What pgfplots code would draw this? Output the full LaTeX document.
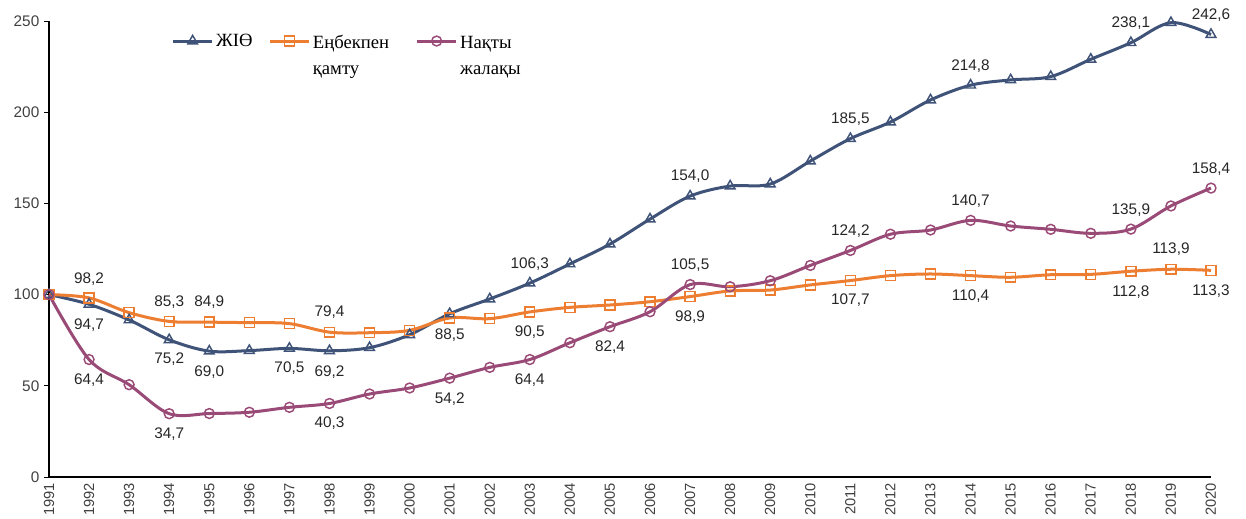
\documentclass[border=0pt]{standalone}
\usepackage{fontspec}
\setmainfont{Liberation Serif}
\newfontfamily\arial{Liberation Sans}
\usepackage{pgfplots}
\pgfplotsset{compat=1.18}
\usetikzlibrary{calc}
\definecolor{cGdp}{HTML}{3F5378}
\definecolor{cEmp}{HTML}{ED7D31}
\definecolor{cWage}{HTML}{9A4A76}
\definecolor{cTxt}{HTML}{262626}
\definecolor{cTick}{HTML}{404040}
\tikzset{lbl/.style={font=\arial\fontsize{11.5}{13}\selectfont, text=cTxt}}

\begin{document}
\begin{tikzpicture}
\begin{axis}[
  name=ax,
  scale only axis,
  width=871.5pt, height=342pt,
  xmin=1991, xmax=2020, ymin=0, ymax=250,
  xtick={1991,...,2020},
  ytick={0,50,...,250},
  axis lines*=left,
  axis line style={black, line width=0.8pt},
  /pgf/number format/1000 sep={},
  /pgf/number format/assume math mode=true,
  tick label style={font=\arial\fontsize{11.5}{13}\selectfont, text=cTick},
  x tick label style={rotate=90, anchor=east, inner sep=0.8pt, font=\arial\fontsize{11}{13}\selectfont},
  x tick style={draw=none},
  y tick style={black, line width=0.6pt},
  major tick length=3.75pt,
  tick align=outside,
  clip=false,
  every axis plot/.append style={line width=2.25pt, smooth, tension=0.55},
  legend style={draw=none, fill=none, at={(0.102,0.99)}, anchor=north west,
    font=\fontsize{14}{19}\selectfont, legend columns=3,
    /tikz/every even column/.append style={column sep=10pt}},
  legend image code/.code={
    \draw[mark repeat=2, mark phase=2, #1] plot coordinates {(0pt,0pt) (14.5pt,0pt) (29pt,0pt)};
  },
]
% ЖIӨ
\addplot[cGdp, mark=triangle, mark size=4.2pt, mark options={fill=white, line width=1.1pt}] coordinates {
 (1991,100) (1992,94.7) (1993,86.1) (1994,75.2) (1995,69.0) (1996,69.3) (1997,70.5) (1998,69.2) (1999,70.9) (2000,78.0)
 (2001,89.5) (2002,97.6) (2003,106.3) (2004,116.8) (2005,127.7) (2006,141.4) (2007,154.0) (2008,159.5) (2009,160.6) (2010,173.2)
 (2011,185.5) (2012,194.6) (2013,206.7) (2014,214.8) (2015,217.7) (2016,219.5) (2017,229.0) (2018,238.1) (2019,249.1) (2020,242.6)
};
\addlegendentry{ЖІӨ}
% Employment
\addplot[cEmp, mark=square, mark size=3.7pt, mark options={fill=white, line width=1.1pt}] coordinates {
 (1991,100) (1992,98.2) (1993,90.1) (1994,85.3) (1995,84.9) (1996,84.6) (1997,84.1) (1998,79.4) (1999,79.1) (2000,80.4)
 (2001,87.2) (2002,86.8) (2003,90.5) (2004,93.0) (2005,94.3) (2006,96.1) (2007,98.9) (2008,102.0) (2009,102.5) (2010,105.3)
 (2011,107.7) (2012,110.4) (2013,111.3) (2014,110.4) (2015,109.5) (2016,110.9) (2017,111.1) (2018,112.8) (2019,113.9) (2020,113.3)
};
\addlegendentry{\begin{tabular}[t]{@{}l@{\hspace{8pt}}}Еңбекпен\\қамту\end{tabular}}
% Real wages
\addplot[cWage, mark=o, mark size=3.7pt, mark options={fill=white, line width=1.1pt}] coordinates {
 (1991,100) (1992,64.4) (1993,50.6) (1994,34.7) (1995,34.8) (1996,35.5) (1997,38.2) (1998,40.3) (1999,45.5) (2000,48.8)
 (2001,54.2) (2002,60.1) (2003,64.4) (2004,73.6) (2005,82.4) (2006,90.6) (2007,105.5) (2008,104.3) (2009,107.6) (2010,116.0)
 (2011,124.2) (2012,133.1) (2013,135.4) (2014,140.7) (2015,137.6) (2016,135.8) (2017,133.6) (2018,135.9) (2019,148.6) (2020,158.4)
};
\addlegendentry{\begin{tabular}[t]{@{}l@{}}Нақты\\жалақы\end{tabular}}

% data labels
\node[lbl] at (axis cs:1992,83.3) {94,7};
\node[lbl] at (axis cs:1994,64.5) {75,2};
\node[lbl] at (axis cs:1995,57.7) {69,0};
\node[lbl] at (axis cs:1997,59.6) {70,5};
\node[lbl] at (axis cs:1998,57.7) {69,2};
\node[lbl] at (axis cs:2001,77.9) {88,5};
\node[lbl] at (axis cs:2003,116.6) {106,3};
\node[lbl] at (axis cs:2007,165.0) {154,0};
\node[lbl] at (axis cs:2011,196.3) {185,5};
\node[lbl] at (axis cs:2014,225.3) {214,8};
\node[lbl] at (axis cs:2018,248.9) {238,1};
\node[lbl] at (axis cs:2020,253.3) {242,6};

\node[lbl] at (axis cs:1992,108.6) {98,2};
\node[lbl] at (axis cs:1994,95.6) {85,3};
\node[lbl] at (axis cs:1995,95.6) {84,9};
\node[lbl] at (axis cs:1998,90.3) {79,4};
\node[lbl] at (axis cs:2003,79.7) {90,5};
\node[lbl] at (axis cs:2007,87.9) {98,9};
\node[lbl] at (axis cs:2011,96.7) {107,7};
\node[lbl] at (axis cs:2014,99.4) {110,4};
\node[lbl] at (axis cs:2018,101.6) {112,8};
\node[lbl] at (axis cs:2019,124.8) {113,9};
\node[lbl] at (axis cs:2020,102.0) {113,3};

\node[lbl] at (axis cs:1992,53.2) {64,4};
\node[lbl] at (axis cs:1994,23.6) {34,7};
\node[lbl] at (axis cs:1998,29.4) {40,3};
\node[lbl] at (axis cs:2001,42.8) {54,2};
\node[lbl] at (axis cs:2003,53.2) {64,4};
\node[lbl] at (axis cs:2005,71.1) {82,4};
\node[lbl] at (axis cs:2007,116.2) {105,5};
\node[lbl] at (axis cs:2011,134.9) {124,2};
\node[lbl] at (axis cs:2014,151.5) {140,7};
\node[lbl] at (axis cs:2018,146.4) {135,9};
\node[lbl] at (axis cs:2020,168.9) {158,4};
\end{axis}
\pgfresetboundingbox
\path[use as bounding box] ($(ax.south west)+(-36.75pt,-30.75pt)$) rectangle ($(ax.north east)+(26.25pt,15.75pt)$);
\end{tikzpicture}
\end{document}
